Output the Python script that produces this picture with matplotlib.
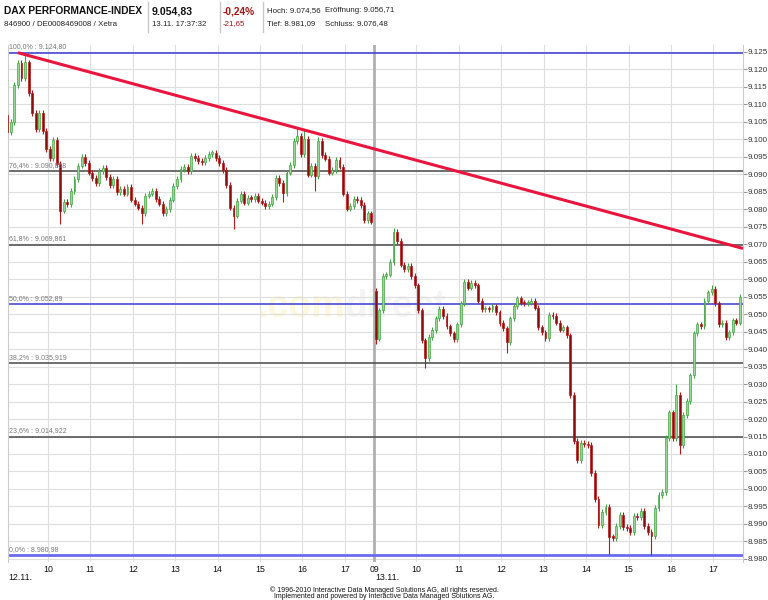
import numpy as np
import matplotlib
matplotlib.use("Agg")
import matplotlib.pyplot as plt
from matplotlib.lines import Line2D
from matplotlib.ticker import FuncFormatter

plt.rcParams["font.family"] = ["Liberation Sans", "DejaVu Sans"]

# 5-minute closes, 12.11. from 09:00 (index points)
day1_open = 9107.0
day1_close = [
    9102.0, 9105.0, 9115.6, 9121.9, 9117.6, 9122.0, 9113.3, 9107.6, 9103.0, 9107.6,
    9102.4, 9097.3, 9094.7, 9099.9, 9093.0, 9079.6, 9082.2, 9081.5, 9085.3, 9088.7,
    9092.5, 9095.0, 9093.3, 9090.5, 9089.0, 9087.6, 9091.0, 9091.9, 9089.3, 9087.0,
    9088.7, 9085.0, 9085.9, 9084.5, 9086.4, 9082.8, 9081.6, 9080.5, 9079.0, 9083.9,
    9084.5, 9085.3, 9083.0, 9081.6, 9078.8, 9080.0, 9082.8, 9086.7, 9088.7, 9091.6,
    9092.2, 9091.0, 9095.3, 9094.7, 9093.9, 9093.4, 9094.7, 9095.9, 9096.2, 9094.7,
    9093.3, 9091.3, 9087.0, 9080.5, 9078.2, 9082.5, 9084.5, 9081.9, 9083.3, 9083.0,
    9083.9, 9082.5, 9081.9, 9081.0, 9081.6, 9083.6, 9089.0, 9087.6, 9084.7, 9090.5,
    9092.7, 9099.6, 9101.0, 9095.9, 9100.2, 9089.9, 9092.5, 9089.6, 9099.6, 9095.6,
    9094.5, 9090.5, 9091.3, 9094.2, 9092.2, 9084.5, 9080.2, 9081.0, 9083.0, 9082.6,
    9081.3, 9076.8, 9078.8, 9076.48,
]
day1_highs = {5: 9124.80, 82: 9103.2, 84: 9102.8, 88: 9100.8}
day1_lows = {15: 9075.9, 38: 9075.9, 64: 9074.5, 78: 9082.0, 87: 9085.3}

# 5-minute closes, 13.11. from 09:00
day2_open = 9056.71
day2_close = [
    9043.0, 9051.1, 9061.0, 9061.3, 9065.0, 9073.6, 9071.0, 9064.2, 9062.8, 9063.9,
    9061.0, 9058.2, 9051.1, 9042.5, 9037.4, 9043.4, 9045.4, 9048.8, 9051.4, 9049.4,
    9046.5, 9044.5, 9042.8, 9047.1, 9053.1, 9059.3, 9057.6, 9059.0, 9058.2, 9053.9,
    9051.4, 9051.6, 9051.4, 9052.2, 9050.5, 9047.4, 9045.9, 9041.9, 9048.8, 9052.2,
    9054.5, 9053.3, 9053.1, 9053.3, 9053.9, 9051.9, 9046.2, 9044.8, 9043.1, 9049.9,
    9049.4, 9047.6, 9045.6, 9046.2, 9043.9, 9026.8, 9013.7, 9008.2, 9013.1, 9012.8,
    9012.5, 9004.5, 8997.1, 8989.7, 8993.4, 8994.8, 8986.3, 8986.0, 8989.4, 8992.5,
    8989.1, 8988.8, 8987.7, 8992.3, 8992.0, 8993.7, 8989.4, 8987.7, 8986.5, 8994.5,
    8998.3, 8999.1, 9014.5, 9021.9, 9014.5, 9026.8, 9012.5, 9021.1, 9025.1, 9032.5,
    9044.5, 9047.1, 9046.5, 9053.9, 9056.2, 9057.3, 9053.1, 9047.1, 9047.6, 9043.4,
    9044.8, 9048.2, 9047.6, 9054.83,
]
day2_highs = {5: 9074.56, 85: 9030.0, 95: 9058.2}
day2_lows = {0: 9041.6, 14: 9034.5, 37: 9038.8, 66: 8981.5, 78: 8981.09, 86: 9010.0}

# Fibonacci retracement between the two-day high and low
fib_high, fib_low = 9124.80, 8980.98
fib_ratios = [1.0, 0.764, 0.618, 0.5, 0.382, 0.236, 0.0]
fib_labels = ["100,0% : 9.124,80", "76,4% : 9.090,858", "61,8% : 9.069,861",
              "50,0% : 9.052,89", "38,2% : 9.035,919", "23,6% : 9.014,922",
              "0,0% : 8.980,98"]

# trend line through the highs (hours on the session axis, index points)
trend_t = [0.29, 17.39]
trend_v = [9124.8, 9068.8]

day1_hours = ["10", "11", "12", "13", "14", "15", "16", "17"]
day2_hours = ["09", "10", "11", "12", "13", "14", "15", "16", "17"]
DAY2_START = 8.69  # session axis position of 13.11. 09:00

UP_FACE, UP_EDGE = "#93d893", "#45a545"
DN_FACE, DN_EDGE = "#8c0c0c", "#b51a1a"


def draw_candles(ax, t0, first_open, closes, highs, lows):
    closes = np.asarray(closes, dtype=float)
    opens = np.r_[first_open, closes[:-1]]
    t = t0 + (np.arange(len(closes)) + 0.5) / 12
    top = np.maximum(opens, closes)
    bot = np.minimum(opens, closes)
    hi = top + 0.8
    lo = bot - 0.8
    for i, v in highs.items():
        hi[i] = v
    for i, v in lows.items():
        lo[i] = v
    up = closes >= opens
    body = np.maximum(top - bot, 0.4)
    for mask, face, edge in [(up, UP_FACE, UP_EDGE), (~up, DN_FACE, DN_EDGE)]:
        ax.vlines(t[mask], lo[mask], hi[mask], color=edge, lw=0.8, zorder=3)
        ax.bar(t[mask], body[mask], bottom=bot[mask], width=0.045,
               color=face, edgecolor=edge, lw=0.5, zorder=4)


fig = plt.figure(figsize=(7.68, 6.0), dpi=100)
W, H = 768, 600
ax = fig.add_axes([8 / W, 1 - 562 / H, (743 - 8) / W, (562 - 45) / H])
ax.set_xlim(0.057, 17.39)
ax.set_ylim(8979.1, 9127.0)

# grid
ax.set_yticks(np.arange(8980, 9126, 5))
ax.yaxis.set_major_formatter(FuncFormatter(lambda v, p: f"{v / 1000:.3f}"))
ax.yaxis.tick_right()
ax.tick_params(axis="y", right=True, left=False, length=3, width=0.8,
               color="#999999", labelcolor="#333333", labelsize=5.8, pad=0.5)
xt = list(np.arange(1, 9)) + list(DAY2_START + np.arange(0, 9))
ax.set_xticks(xt)
ax.set_xticklabels(day1_hours + day2_hours)
ax.tick_params(axis="x", length=0, labelsize=6.3, labelcolor="#111111", pad=2)
ax.grid(True, color="#dedede", lw=0.8, zorder=0)
ax.set_axisbelow(True)
ax.axvline(DAY2_START, color="#b0b0b0", lw=2.0, zorder=1)
for s in ["top", "bottom"]:
    ax.spines[s].set_visible(False)
for s in ["left", "right"]:
    ax.spines[s].set_color("#cccccc")

# watermark
ax.text(345 / W, 1 - 307 / H, ".com", transform=fig.transFigure, ha="right",
        va="center", fontsize=27, fontweight="bold", color="#fdf7dc", zorder=0.5)
ax.text(345 / W, 1 - 307 / H, "direct", transform=fig.transFigure, ha="left",
        va="center", fontsize=27, fontweight="bold", color="#f4f4f4", zorder=0.5)

# fibonacci levels
for r, lab in zip(fib_ratios, fib_labels):
    v = fib_low + r * (fib_high - fib_low)
    if r in (1.0, 0.5):
        col, lw = "#3a3ad0", 1.1
    elif r == 0.0:
        col, lw = "#6a6af0", 2.0
    else:
        col, lw = "#555555", 1.2
    ax.axhline(v, color=col, lw=lw, zorder=2)
    ax.text(0.075, v + 0.7, lab, fontsize=5, color="#777777", va="bottom",
            ha="left", zorder=6)

draw_candles(ax, 0.0, day1_open, day1_close, day1_highs, day1_lows)
draw_candles(ax, DAY2_START, day2_open, day2_close, day2_highs, day2_lows)

ax.plot(trend_t, trend_v, color="#e8163f", lw=2.2, zorder=5,
        solid_capstyle="butt", clip_on=False)

# date labels under the axis
fig.text(8 / W, 1 - 578 / H, "12.11.", fontsize=6.3, color="#111111", va="center")
fig.text(387 / W, 1 - 578 / H, "13.11.", fontsize=6.3, color="#111111",
         va="center", ha="center")

# footer
fig.text(384 / W, 1 - 590 / H,
         "\u00a9 1996-2010 Interactive Data Managed Solutions AG, all rights reserved.",
         fontsize=5.0, ha="center", va="center", color="#111111")
fig.text(384 / W, 1 - 597 / H,
         "Implemented and powered by Interactive Data Managed Solutions AG.",
         fontsize=5.0, ha="center", va="center", color="#111111")

# header
fig.text(4 / W, 1 - 11 / H, "DAX PERFORMANCE-INDEX", fontsize=7.4,
         fontweight="bold", va="center", color="#111111")
fig.text(4 / W, 1 - 24 / H, "846900 / DE0008469008 / Xetra", fontsize=5.7,
         va="center", color="#222222")
fig.text(152 / W, 1 - 11 / H, "9.054,83", fontsize=7.6, fontweight="bold",
         va="center", color="#111111")
fig.text(152 / W, 1 - 24 / H, "13.11. 17:37:32", fontsize=5.7, va="center",
         color="#222222")
fig.text(223 / W, 1 - 11 / H, "-0,24%", fontsize=7.3, fontweight="bold",
         va="center", color="#a31515")
fig.text(223 / W, 1 - 24 / H, "-21,65", fontsize=5.7, va="center", color="#a31515")
fig.text(267 / W, 1 - 11 / H, "Hoch: 9.074,56", fontsize=5.7, va="center", color="#222222")
fig.text(325 / W, 1 - 11 / H, "Er\u00f6ffnung: 9.056,71", fontsize=5.7, va="center",
         color="#222222")
fig.text(267 / W, 1 - 24 / H, "Tief: 8.981,09", fontsize=5.7, va="center", color="#222222")
fig.text(325 / W, 1 - 24 / H, "Schluss: 9.076,48", fontsize=5.7, va="center",
         color="#222222")
for xs in (148, 220, 263):
    fig.add_artist(Line2D([xs / W, xs / W], [1 - 2 / H, 1 - 32 / H],
                          color="#c8c8c8", lw=1.0))

fig.savefig("out.png", dpi=100)
